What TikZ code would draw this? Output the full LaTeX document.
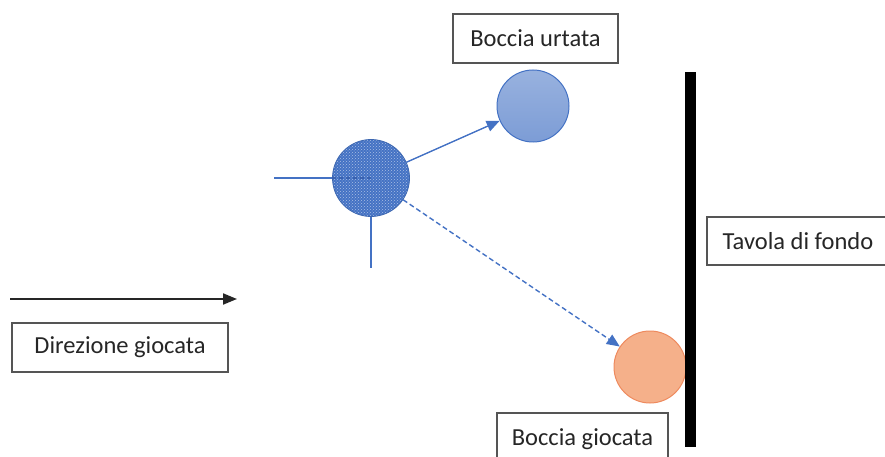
\documentclass[tikz,border=0pt]{standalone}
\usepackage{fontspec}
\setmainfont{Carlito}
\usetikzlibrary{arrows.meta,patterns,shadings}
\definecolor{bl}{HTML}{4472C4}
\definecolor{bldark}{HTML}{3A62B0}
\definecolor{orfill}{HTML}{F5B08A}
\definecolor{orline}{HTML}{EE8A5E}
\definecolor{boxline}{HTML}{555555}
\tikzset{
  label box/.style={draw=boxline, line width=1.3pt, fill=white, inner sep=0pt,
    font=\fontsize{24.5}{29}\selectfont, text=black!85},
  ball/.style={circle, inner sep=0pt, minimum size=#1},
  blue line/.style={draw=bl, line width=1.4pt},
  blue tip/.style={-{Triangle[length=13pt,width=11pt]}}
}
\begin{document}
\begin{tikzpicture}[x=1pt,y=-1pt]
\useasboundingbox (0,0) rectangle (885,457);
% balls
\node[ball=77pt, fill=bl] (h) at (371,178) {};
\fill[pattern=crosshatch dots, pattern color=white!55!bl] (h.center) circle (38.5pt);
\draw[bl!90!black, line width=0.8pt] (h.center) circle (38.5pt);
\node[ball=72pt, draw=bl, line width=1pt, top color=bl!55, bottom color=bl!70] (u) at (533,106) {};
\node[ball=72pt, draw=orline, line width=1pt, fill=orfill] (g) at (650,367) {};
% bar
\node[fill=black, inner sep=0pt, minimum width=11pt, minimum height=375pt] (bar) at (690.5,259.5) {};
% lines
\coordinate (hl) at (274,178);
\coordinate (vb) at (371,268);
\draw[blue line] (hl) -- (h.west);
\draw[bldark, line width=1.2pt, dash pattern=on 4pt off 3pt] (h.west) -- (h.center);
\draw[blue line] (h.south) -- (vb);
\draw[blue line, blue tip] (h) -- (u);
\draw[blue line, blue tip, dash pattern=on 5pt off 3pt] (h) -- (g);
% direction arrow
\coordinate (da) at (10,299);
\coordinate (db) at (237,299);
\draw[black!85, line width=2pt, -{Triangle[length=14pt,width=11pt]}] (da) -- (db);
% label boxes
\node[label box, minimum width=216pt, minimum height=49pt] (dir) at (120,347.5) {Direzione giocata};
\node[label box, minimum width=165pt, minimum height=49pt] (urt) at (535.5,38.5) {Boccia urtata};
\node[label box, minimum width=182pt, minimum height=48pt] (tav) at (798,241) {Tavola di fondo};
\node[label box, minimum width=171pt, minimum height=52pt] (gio) at (582.5,439) {Boccia giocata};
\end{tikzpicture}
\end{document}
